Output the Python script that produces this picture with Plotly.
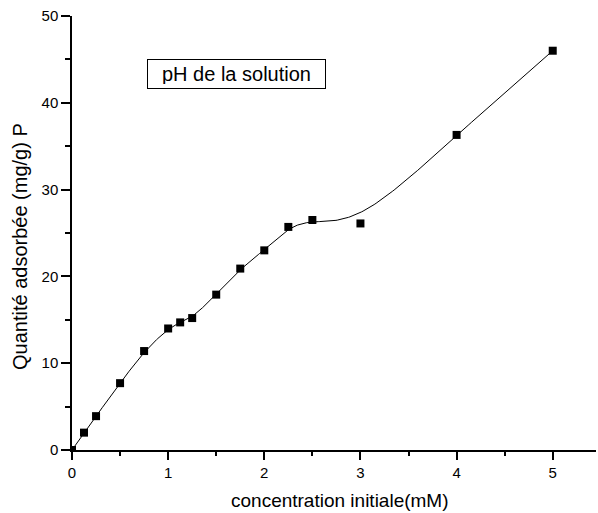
import numpy as np
import plotly.graph_objects as go

# Initial concentration (mM) and adsorbed quantity (mg/g)
concentration = [0, 0.125, 0.25, 0.5, 0.75, 1.0, 1.125, 1.25, 1.5, 1.75, 2.0, 2.25, 2.5, 3.0, 4.0, 5.0]
quantite = [0, 2.0, 3.9, 7.7, 11.4, 14.0, 14.7, 15.2, 17.9, 20.9, 23.0, 25.7, 26.5, 26.1, 36.3, 46.0]


def bspline(xs, ys, n=40):
    """Uniform cubic B-spline using the data points as control points (ends clamped)."""
    px = np.concatenate([[xs[0]] * 2, xs, [xs[-1]] * 2])
    py = np.concatenate([[ys[0]] * 2, ys, [ys[-1]] * 2])
    M = np.array([[-1, 3, -3, 1], [3, -6, 3, 0], [-3, 0, 3, 0], [1, 4, 1, 0]]) / 6.0
    t = np.linspace(0, 1, n)
    T = np.stack([t**3, t**2, t, np.ones_like(t)], axis=1)
    B = T @ M
    cx, cy = [], []
    for i in range(len(px) - 3):
        cx.append(B @ px[i:i + 4])
        cy.append(B @ py[i:i + 4])
    return np.concatenate(cx), np.concatenate(cy)


sx, sy = bspline(np.array(concentration, float), np.array(quantite, float))

fig = go.Figure()
fig.add_trace(go.Scatter(x=sx, y=sy, mode="lines",
                         line=dict(color="black", width=1), hoverinfo="skip"))
fig.add_trace(go.Scatter(x=concentration, y=quantite, mode="markers",
                         marker=dict(symbol="square", size=8, color="black")))

font = "Liberation Sans, Arial, sans-serif"
fig.update_layout(
    width=598, height=513,
    margin=dict(l=72, r=2, t=16, b=63),
    paper_bgcolor="white", plot_bgcolor="white",
    showlegend=False,
    font=dict(family=font, color="black", size=15),
    xaxis=dict(
        range=[0, 5.45], tickmode="array", tickvals=[0, 1, 2, 3, 4, 5],
        ticks="outside", ticklen=8, tickwidth=1.5, tickcolor="black",
        minor=dict(tickvals=[0.5, 1.5, 2.5, 3.5, 4.5], ticks="outside", ticklen=4,
                   tickwidth=1.5, tickcolor="black"),
        showline=True, linecolor="black", linewidth=1.5, showgrid=False, zeroline=False,
        tickfont=dict(size=15),
    ),
    yaxis=dict(
        range=[0, 50], tickmode="array", tickvals=[0, 10, 20, 30, 40, 50],
        ticks="outside", ticklen=9, tickwidth=1.5, tickcolor="black",
        minor=dict(tickvals=[5, 15, 25, 35, 45], ticks="outside", ticklen=5,
                   tickwidth=1.5, tickcolor="black"),
        showline=True, linecolor="black", linewidth=1.5, showgrid=False, zeroline=False,
        tickfont=dict(size=15),
    ),
)

# Axis titles
fig.add_annotation(
    xref="paper", yref="paper", x=0.511, y=-0.1175, xanchor="center", yanchor="middle",
    text="concentration initiale(mM)", showarrow=False, font=dict(size=19),
)
fig.add_annotation(
    xref="paper", yref="paper", x=-0.099, y=0.468, xanchor="center", yanchor="middle",
    text="Quantité adsorbée (mg/g) P", showarrow=False, textangle=-90, font=dict(size=20),
)

# Boxed label
fig.add_annotation(
    xref="paper", yref="paper", x=0.314, y=0.866, xanchor="center", yanchor="middle",
    text="pH de la solution", showarrow=False,
    font=dict(size=20, family=font, color="black"),
    bordercolor="black", borderwidth=1, borderpad=4, bgcolor="white",
    width=169, height=20,
)

fig.write_html("out.html")
